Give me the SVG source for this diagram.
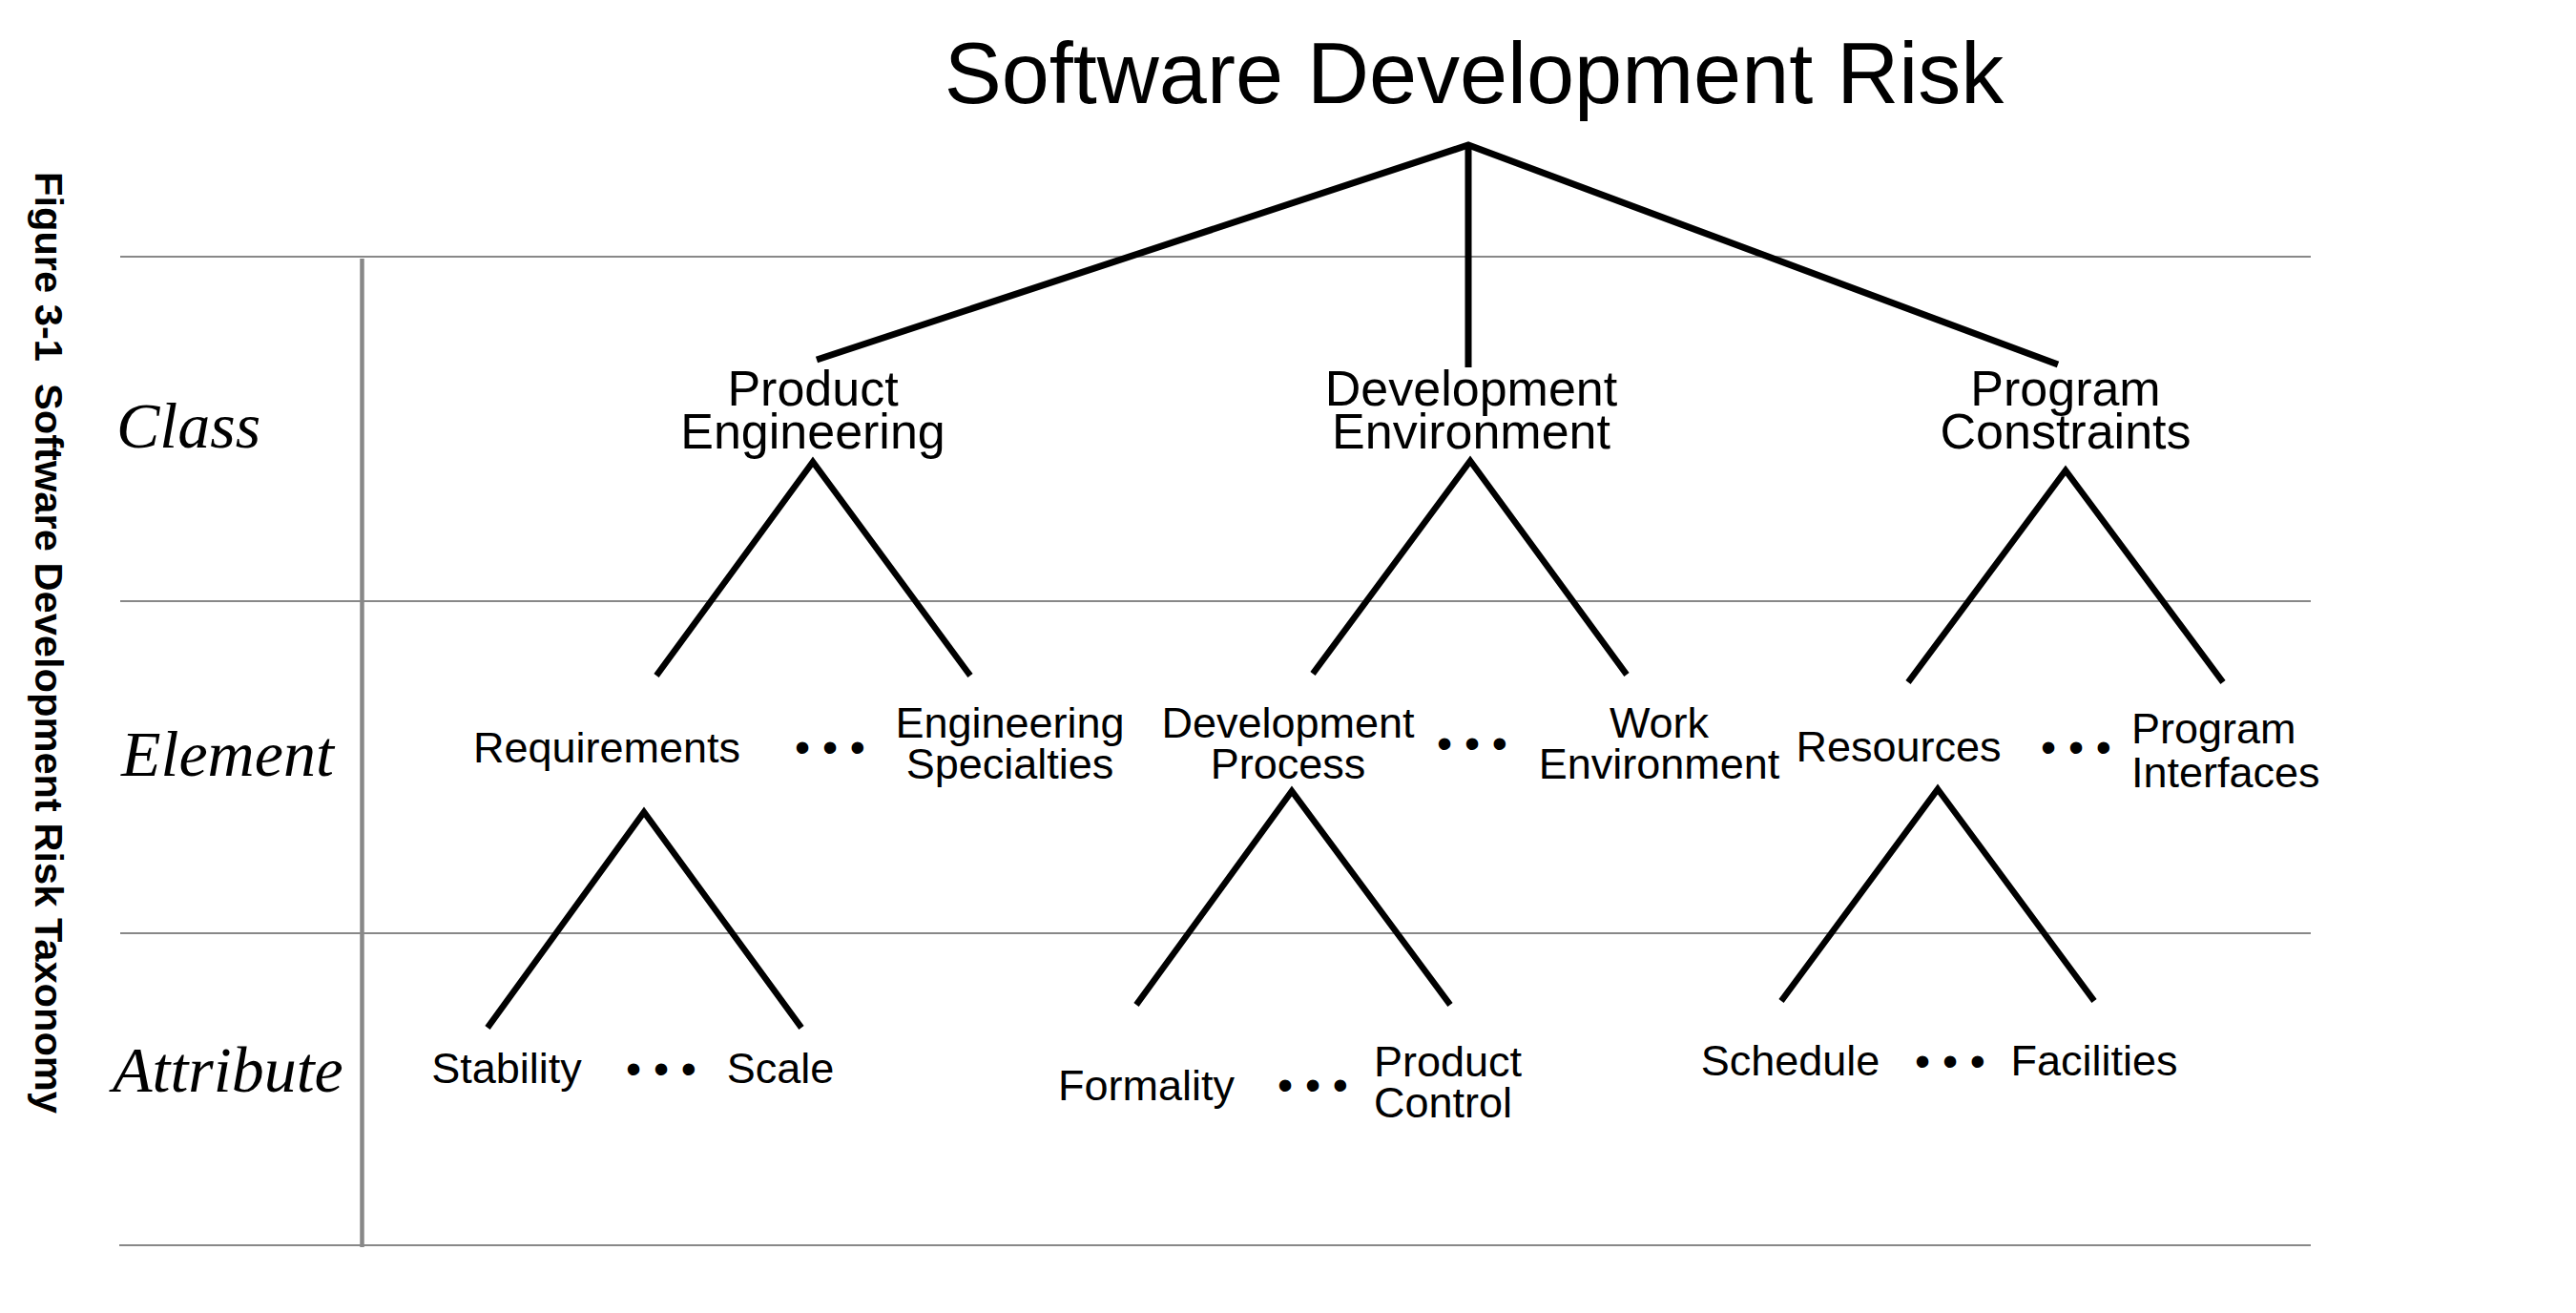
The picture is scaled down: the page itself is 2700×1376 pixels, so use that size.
<svg xmlns="http://www.w3.org/2000/svg" width="2700" height="1376" viewBox="0 0 2700 1376">
<style>
.grid{stroke:#888;stroke-width:2;fill:none}
.vgrid{stroke:#888;stroke-width:4.5;fill:none}
.top{stroke:#000;stroke-width:7;fill:none;stroke-linejoin:miter;stroke-linecap:butt}
.tri{stroke:#000;stroke-width:6.5;fill:none;stroke-linejoin:miter;stroke-linecap:butt}
.title{font-family:"Liberation Sans",Arial,sans-serif;font-size:90px;fill:#000;text-anchor:middle}
.cls{font-family:"Liberation Sans",Arial,sans-serif;font-size:52px;fill:#000;text-anchor:middle}
.lbl{font-family:"Liberation Sans",Arial,sans-serif;font-size:45px;fill:#000;text-anchor:middle}
.lbls{font-family:"Liberation Sans",Arial,sans-serif;font-size:45px;fill:#000;text-anchor:start}
.dots{font-family:"Liberation Sans",Arial,sans-serif;font-size:46px;fill:#000;text-anchor:middle}
.row{font-family:"Liberation Serif","Times New Roman",serif;font-style:italic;font-size:68px;fill:#000}
.cap{font-family:"Liberation Sans",Arial,sans-serif;font-weight:bold;font-size:41.5px;fill:#000}
</style>
<rect width="2700" height="1376" fill="#fff"/>
<g id="grid">
<line class="grid" x1="126" y1="269" x2="2422" y2="269"/>
<line class="grid" x1="126" y1="630" x2="2422" y2="630"/>
<line class="grid" x1="126" y1="978" x2="2422" y2="978"/>
<line class="grid" x1="125" y1="1305" x2="2422" y2="1305"/>
<line class="vgrid" x1="379.5" y1="271" x2="379.5" y2="1307"/>
</g>
<g id="caption">
<text class="cap" transform="translate(37,180) rotate(90)" textLength="987" lengthAdjust="spacingAndGlyphs">Figure 3-1 &#160;Software Development Risk Taxonomy</text>
</g>
<g id="row-labels">
<text class="row" x="122" y="469">Class</text>
<text class="row" x="127" y="813">Element</text>
<text class="row" x="118" y="1144">Attribute</text>
</g>
<g id="connectors">
<polyline class="top" points="856,377 1539,152 2157,382"/>
<line class="top" x1="1539" y1="152" x2="1539" y2="385"/>
<polyline class="tri" points="688,708 852,484 1017,708"/>
<polyline class="tri" points="1376,706 1541,483 1705,707"/>
<polyline class="tri" points="2000,715 2165,493 2330,715"/>
<polyline class="tri" points="511,1077 675,851 840,1077"/>
<polyline class="tri" points="1191,1053 1354,829 1520,1053"/>
<polyline class="tri" points="1867,1049 2031,827 2195,1049"/>
</g>
<g id="root"><text class="title" x="1545" y="108">Software Development Risk</text></g>
<g id="class-product-engineering"><text class="cls"><tspan x="852" y="425">Product</tspan><tspan x="852" y="470">Engineering</tspan></text></g>
<g id="class-development-environment"><text class="cls"><tspan x="1542" y="425">Development</tspan><tspan x="1542" y="470">Environment</tspan></text></g>
<g id="class-program-constraints"><text class="cls"><tspan x="2165" y="425">Program</tspan><tspan x="2165" y="470">Constraints</tspan></text></g>
<g id="el-requirements"><text class="lbl" x="636" y="799">Requirements</text></g>
<g id="dots-pe"><text class="dots" x="870" y="799">• • •</text></g>
<g id="el-engineering-specialties"><text class="lbl"><tspan x="1058.5" y="773">Engineering</tspan><tspan x="1058.5" y="816">Specialties</tspan></text></g>
<g id="el-development-process"><text class="lbl"><tspan x="1350" y="773">Development</tspan><tspan x="1350" y="816">Process</tspan></text></g>
<g id="dots-de"><text class="dots" x="1543" y="795">• • •</text></g>
<g id="el-work-environment"><text class="lbl"><tspan x="1739" y="773">Work</tspan><tspan x="1739" y="816">Environment</tspan></text></g>
<g id="el-resources"><text class="lbl" x="1990" y="798">Resources</text></g>
<g id="dots-pc"><text class="dots" x="2176" y="799">• • •</text></g>
<g id="el-program-interfaces"><text class="lbls"><tspan x="2234" y="779">Program</tspan><tspan x="2234" y="825">Interfaces</tspan></text></g>
<g id="at-stability"><text class="lbl" x="531" y="1135">Stability</text></g>
<g id="dots-req"><text class="dots" x="693" y="1136">• • •</text></g>
<g id="at-scale"><text class="lbl" x="818" y="1135">Scale</text></g>
<g id="at-formality"><text class="lbl" x="1201.5" y="1153">Formality</text></g>
<g id="dots-dp"><text class="dots" x="1376" y="1153">• • •</text></g>
<g id="at-product-control"><text class="lbls"><tspan x="1440" y="1128">Product</tspan><tspan x="1440" y="1171">Control</tspan></text></g>
<g id="at-schedule"><text class="lbl" x="1876.5" y="1127">Schedule</text></g>
<g id="dots-res"><text class="dots" x="2044" y="1128">• • •</text></g>
<g id="at-facilities"><text class="lbl" x="2195" y="1127">Facilities</text></g>
</svg>
